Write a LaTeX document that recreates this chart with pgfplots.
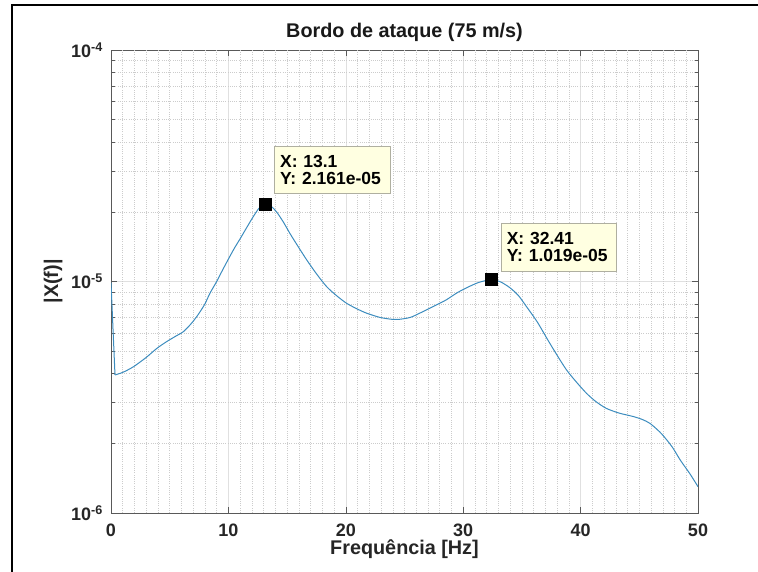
\documentclass[border=0pt]{standalone}
\usepackage{fontspec}
\setmainfont{Liberation Sans}
\usepackage{pgfplots}
\usepackage{pgfplotstable}
\pgfplotsset{compat=1.18}
\definecolor{mblue}{RGB}{60,140,190}
\definecolor{tipbg}{RGB}{255,255,225}
\definecolor{tipdraw}{RGB}{175,175,160}

\pgfplotstableread{
x y
0 9.9e-6
0.34 3.95e-6
}\spectrumstart

\pgfplotstableread{
x y
0.34 3.95e-6
1.0 4.05e-6
1.9 4.28e-6
3.0 4.7e-6
3.9 5.14e-6
4.74 5.5e-6
5.5 5.8e-6
6.16 6.07e-6
6.8 6.55e-6
7.3 7.05e-6
7.62 7.45e-6
8.0 8.0e-6
8.43 8.9e-6
9.0 1.0e-5
9.5 1.12e-5
10.0 1.25e-5
10.5 1.39e-5
11.0 1.53e-5
11.5 1.69e-5
12.1 1.9e-5
12.6 2.07e-5
13.1 2.161e-5
13.6 2.12e-5
14.1 2.0e-5
14.7 1.8e-5
15.25 1.61e-5
16.0 1.4e-5
16.67 1.24e-5
17.5 1.08e-5
18.37 9.5e-6
19.2 8.7e-6
20.07 8.05e-6
21.0 7.6e-6
21.77 7.3e-6
22.9 7.0e-6
23.9 6.87e-6
24.6 6.87e-6
25.5 7.0e-6
26.3 7.3e-6
27.4 7.78e-6
28.5 8.3e-6
29.5 8.95e-6
30.3 9.4e-6
31.3 9.9e-6
32.41 1.019e-5
33.2 9.95e-6
33.98 9.4e-6
34.7 8.7e-6
35.4 7.78e-6
36.3 6.7e-6
37.2 5.6e-6
38.0 4.8e-6
38.8 4.15e-6
39.6 3.7e-6
40.5 3.29e-6
41.3 3.03e-6
42.2 2.83e-6
43.3 2.7e-6
44.5 2.61e-6
45.3 2.53e-6
45.9 2.44e-6
46.5 2.3e-6
47.0 2.17e-6
47.8 1.93e-6
48.5 1.69e-6
49.3 1.48e-6
50 1.3e-6
}\spectrum

\begin{document}
\begin{tikzpicture}[x=1pt,y=1pt]
\path[use as bounding box] (0,0) rectangle (758,572);
\fill[black] (11,0) rectangle (13,568);
\fill[black] (11,566) rectangle (758,568);
\node[rotate=90, anchor=base, inner sep=0pt, font=\fontsize{19.8}{23}\selectfont\bfseries, text=black!85] at (58,290.5) {|X(f)|};
\begin{axis}[
  at={(111pt,59pt)}, anchor=south west,
  scale only axis, width=587pt, height=463pt,
  xmin=0, xmax=50, ymode=log, ymin=1e-6, ymax=1e-4,
  xtick={0,10,20,30,40,50}, xticklabels={0,10,20,30,40,50},
  ytick={1e-6,1e-5,1e-4},
  yticklabels={10\textsuperscript{-6},10\textsuperscript{-5},10\textsuperscript{-4}},
  tick label style={font=\fontsize{18}{21}\selectfont\bfseries, text=black!85},
  xticklabel style={anchor=base, yshift=-23pt},
  yticklabel style={anchor=east, inner xsep=0pt, xshift=-8pt},
  major tick length=6pt, minor tick length=3.5pt,
  tick style={draw=black!65, line width=0.6pt},
  axis line style={draw=black!65, line width=0.8pt},
  xmajorgrids, ymajorgrids, yminorgrids,
  major grid style={draw=black!12, line width=0.5pt},
  minor grid style={draw=black!20, line width=0.5pt, dash pattern=on 1pt off 1.2pt},
  extra x ticks={1,2,3,4,5,6,7,8,9,11,12,13,14,15,16,17,18,19,21,22,23,24,25,26,27,28,29,31,32,33,34,35,36,37,38,39,41,42,43,44,45,46,47,48,49},
  extra x tick labels={},
  extra x tick style={major tick length=0pt, grid=major, major grid style={draw=black!20, line width=0.5pt, dash pattern=on 1pt off 1.2pt}},
  title={Bordo de ataque (75 m/s)},
  title style={font=\fontsize{19.8}{23}\selectfont\bfseries, text=black!90, anchor=base, at={(0.5,1)}, yshift=7pt},
  xlabel={Frequência [Hz]},
  xlabel style={font=\fontsize{19.8}{23}\selectfont\bfseries, text=black!85, at={(axis description cs:0.5,0)}, anchor=base, yshift=-41pt},
]
\addplot[mblue, line width=1pt] table[x=x,y=y] {\spectrumstart};
\addplot[mblue, line width=1pt, smooth, tension=0.45] table[x=x,y=y] {\spectrum};
\addplot[only marks, mark=square*, mark size=6pt, mark options={fill=black, draw=black}] coordinates {(13.1,2.161e-5) (32.41,1.019e-5)};
\node[anchor=south west, xshift=9pt, yshift=10pt, fill=tipbg, draw=tipdraw, line width=0.6pt,
  inner xsep=6pt, inner ysep=0pt, text width=104pt, minimum height=47pt, align=left,
  font=\fontsize{17.5}{17}\selectfont\bfseries]
  at (axis cs:13.1,2.161e-5) {X: 13.1\\Y: 2.161e-05};
\node[anchor=south west, xshift=10pt, yshift=8pt, fill=tipbg, draw=tipdraw, line width=0.6pt,
  inner xsep=5pt, inner ysep=0pt, text width=105pt, minimum height=48pt, align=left,
  font=\fontsize{17.5}{17}\selectfont\bfseries]
  at (axis cs:32.41,1.019e-5) {X: 32.41\\Y: 1.019e-05};
\end{axis}
\end{tikzpicture}
\end{document}
